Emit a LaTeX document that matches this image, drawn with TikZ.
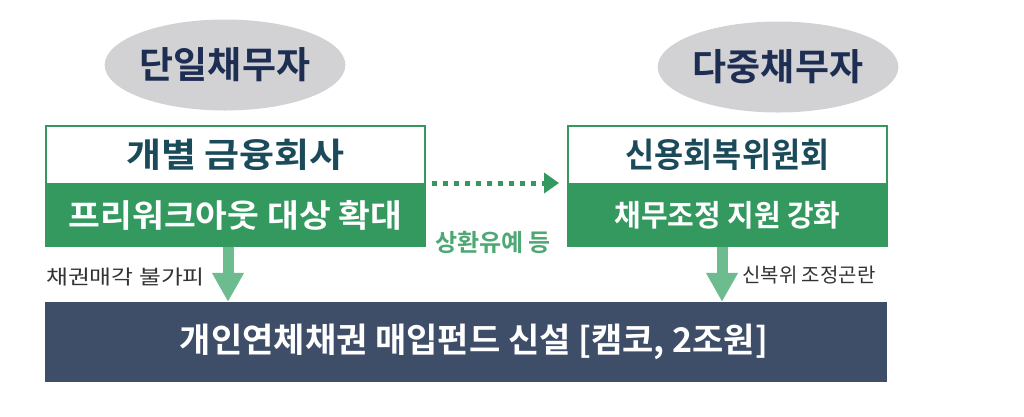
\documentclass[tikz,border=0pt]{standalone}
\usepackage{fontspec}
\setmainfont{Noto Sans CJK KR}[BoldFont={Noto Sans CJK KR Bold}]
\usetikzlibrary{shapes.geometric,arrows.meta}
\definecolor{ellgray}{HTML}{D2D2D5}
\definecolor{navytxt}{HTML}{1E2D52}
\definecolor{teal}{HTML}{1B4B5A}
\definecolor{boxgreen}{HTML}{33995F}
\definecolor{arrgreen}{HTML}{6DBC8F}
\definecolor{midgreen}{HTML}{4DA874}
\definecolor{barblue}{HTML}{3F4E68}
\definecolor{labgray}{HTML}{333333}
\newcommand{\hsc}[2]{\scalebox{#1}[1]{#2}}
\tikzset{
  ellnode/.style={ellipse, fill=ellgray, minimum width=216pt, minimum height=91pt, inner sep=0pt,
    text=navytxt, font=\fontsize{37}{42}\selectfont\bfseries},
  titlebox/.style={rectangle, draw=boxgreen, line width=2pt, fill=white, minimum height=58pt, inner sep=0pt,
    text=teal, font=\fontsize{34}{38}\selectfont\bfseries},
  subbox/.style={rectangle, draw=boxgreen, line width=2pt, fill=boxgreen, minimum height=62pt, inner sep=0pt,
    text=white, font=\fontsize{32}{36}\selectfont\bfseries},
  barbox/.style={rectangle, fill=barblue, minimum width=842pt, minimum height=80pt, inner sep=0pt,
    text=white, font=\fontsize{34}{38}\selectfont\bfseries},
  fatarrow/.style={draw=arrgreen, line width=11pt, -{Triangle[width=30pt 0 0, length=29pt 0 0]}, arrgreen},
  dotarrow/.style={draw=boxgreen, line width=5pt, dash pattern=on 5pt off 6pt, -{Triangle[width=20pt 0 0, length=15pt 0 0]}},
  smalllab/.style={text=labgray, font=\fontsize{20}{24}\selectfont, inner sep=0pt},
  midlab/.style={text=midgreen, font=\fontsize{24}{28}\selectfont\bfseries, inner sep=0pt}
}
\begin{document}
\begin{tikzpicture}[x=1pt,y=-1pt]
\useasboundingbox (0,0) rectangle (1024,416);
\fill[white] (0,0) rectangle (1024,416);
% ellipses
\node[ellnode] (e1) at (225,65) {단일채무자};
\node[ellnode] (e2) at (778,67) {다중채무자};
% left box
\node[titlebox, minimum width=379pt] (lt) at (235.5,155) {\hsc{1.12}{개별 금융회사}};
\node[subbox, minimum width=379pt] (lb) at (235.5,215) {\hsc{1.08}{프리워크아웃 대상 확대}};
% right box
\node[titlebox, minimum width=319pt] (rt) at (727.5,155) {\hsc{0.93}{신용회복위원회}};
\node[subbox, minimum width=319pt, font=\fontsize{30}{34}\selectfont\bfseries] (rb) at (727.5,215) {\hsc{0.965}{채무조정 지원 강화}};
% bottom bar
\node[barbox] (bar) at (466,342) {\hspace{16pt}개인연체채권 매입펀드 신설 [캠코, 2조원]};
% dotted arrow
\draw[dotarrow] ([xshift=6pt,yshift=2pt]lt.south east) -- ([xshift=-8pt,yshift=2pt]rt.south west);
\node[midlab] (ml) at (493,242) {상환유예 등};
% down arrows
\coordinate (la) at (228,0);
\coordinate (ra) at (722,0);
\draw[fatarrow] (la |- lb.south) -- (la |- bar.north);
\draw[fatarrow] (ra |- rb.south) -- (ra |- bar.north);
\node[smalllab, anchor=west] (l1) at (46,277) {\hsc{1.19}{채권매각 불가피}};
\node[smalllab, anchor=west] (l2) at (742,275) {신복위 조정곤란};
\end{tikzpicture}
\end{document}
